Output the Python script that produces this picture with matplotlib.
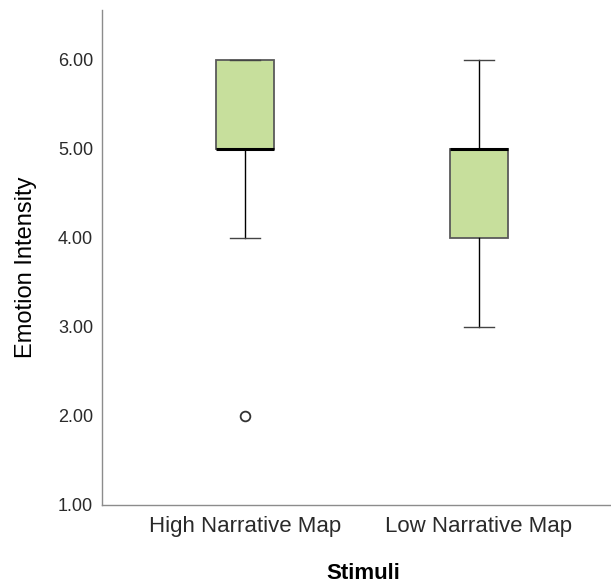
import matplotlib
matplotlib.use("Agg")
import matplotlib.pyplot as plt

plt.rcParams["font.family"] = ["Liberation Sans", "DejaVu Sans"]

# Box statistics
categories = ["High Narrative Map", "Low Narrative Map"]
q1 = [5.0, 4.0]
median = [5.0, 5.0]
q3 = [6.0, 5.0]
whisker_low = [4.0, 3.0]
whisker_high = [6.0, 6.0]
outliers = [[2.0], []]
yticks = [1.0, 2.0, 3.0, 4.0, 5.0, 6.0]

BOX_FILL = "#c7df9c"
BOX_EDGE = "#5a5a5a"
SPINE = "#8c8c8c"

stats = [
    {"label": c, "q1": a, "med": m, "q3": b, "whislo": lo, "whishi": hi, "fliers": f}
    for c, a, m, b, lo, hi, f in zip(categories, q1, median, q3,
                                     whisker_low, whisker_high, outliers)
]

fig = plt.figure(figsize=(6.11, 5.87), dpi=100)
ax = fig.add_axes([0.167, 0.14, 0.833, 0.843])

ax.bxp(stats, positions=[0, 1], widths=0.25, patch_artist=True,
       showfliers=True,
       boxprops=dict(facecolor=BOX_FILL, edgecolor=BOX_EDGE, linewidth=1.3),
       medianprops=dict(color="black", linewidth=2.2, solid_capstyle="butt"),
       whiskerprops=dict(color="black", linewidth=1.0),
       capprops=dict(color="#444444", linewidth=1.0),
       capwidths=0.128,
       flierprops=dict(marker="o", markersize=7, markerfacecolor="none",
                       markeredgecolor="#333333", markeredgewidth=1.3))

ax.set_xlim(-0.611, 1.564)
ax.set_ylim(1.0, 6.56)
ax.set_yticks(yticks)
ax.set_yticklabels([f"{v:.2f}" for v in yticks])
ax.set_xticks([0, 1])
ax.set_xticklabels(categories)

for s in ("top", "right"):
    ax.spines[s].set_visible(False)
for s in ("left", "bottom"):
    ax.spines[s].set_color(SPINE)
    ax.spines[s].set_linewidth(1.0)

ax.tick_params(axis="y", length=0, pad=6.5, labelsize=13, labelcolor="#2a2a2a")
ax.tick_params(axis="x", length=0, pad=8, labelsize=16, labelcolor="#2a2a2a")

ax.set_ylabel("Emotion Intensity", fontsize=17, color="black")
ax.yaxis.set_label_coords(-0.128, 0.48)
ax.set_xlabel("Stimuli", fontsize=16, fontweight="bold", color="black")
ax.xaxis.set_label_coords(0.513, -0.117)

fig.savefig("out.png", dpi=100)
